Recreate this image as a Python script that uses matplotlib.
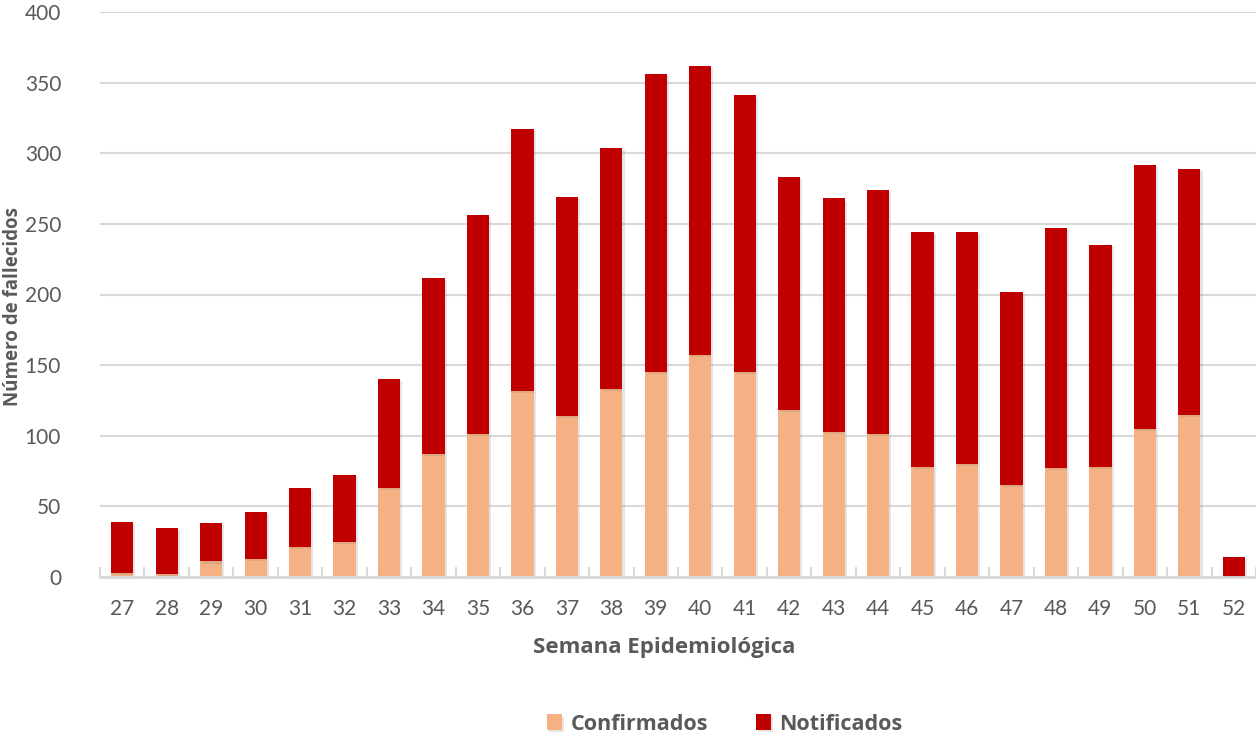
import numpy as np
import matplotlib.pyplot as plt
import matplotlib.patheffects as pe

# Fallecidos por semana epidemiológica
semanas = [str(s) for s in range(27, 53)]
confirmados = [3, 2, 11, 13, 21, 25, 63, 87, 101, 132, 114, 133, 145,
               157, 145, 118, 103, 101, 78, 80, 65, 77, 78, 105, 115, 0]
notificados = [36, 33, 27, 33, 42, 47, 77, 125, 155, 185, 155, 171, 211,
               205, 196, 165, 165, 173, 166, 164, 137, 170, 157, 187, 174, 14]

COLOR_CONF = "#F4B183"
COLOR_NOTIF = "#C00000"
GRIS_TEXTO = "#595959"
GRIS_LINEA = "#d9d9d9"
NEGRITA = ['Open Sans', 'DejaVu Sans']

plt.rcParams['font.family'] = ['Lato', 'DejaVu Sans']

fig = plt.figure(figsize=(12.56, 7.40), dpi=100)
ax = fig.add_axes([100 / 1256, 163 / 740, 1156 / 1256, 565 / 740])

x = np.arange(len(semanas))
sombra = [pe.SimplePatchShadow(offset=(1.5, -1.5), shadow_rgbFace="#808080", alpha=0.2), pe.Normal()]
b1 = ax.bar(x, confirmados, width=0.5, color=COLOR_CONF, label="Confirmados", zorder=3)
b2 = ax.bar(x, notificados, width=0.5, bottom=confirmados, color=COLOR_NOTIF,
            label="Notificados", zorder=3)
for barra in list(b1) + list(b2):
    barra.set_path_effects(sombra)

ax.set_xlim(-0.5, len(semanas) - 0.5)
ax.set_ylim(0, 400)
ax.set_yticks(range(0, 401, 50))
ax.set_xticks(x)
ax.set_xticklabels(semanas)
ax.set_xticks(np.arange(-0.5, len(semanas), 1.0), minor=True)

ax.grid(axis="y", color=GRIS_LINEA, linewidth=1.5, zorder=0)
ax.set_axisbelow(True)
for lado in ["top", "right", "left"]:
    ax.spines[lado].set_visible(False)
ax.spines["bottom"].set_color(GRIS_LINEA)
ax.spines["bottom"].set_linewidth(2)
ax.spines["bottom"].set_zorder(4)

ax.tick_params(axis="y", length=0, labelsize=15, labelcolor=GRIS_TEXTO, pad=28)
ax.tick_params(axis="x", which="major", length=0, labelsize=15, labelcolor=GRIS_TEXTO, pad=16)
ax.tick_params(axis="x", which="minor", length=7, width=1.5, color=GRIS_LINEA, direction="in")

# títulos de ejes en coordenadas de figura
fig.text(664 / 1256, 1 - 648 / 740, "Semana Epidemiológica", fontsize=16, fontweight="bold",
         family=NEGRITA, color=GRIS_TEXTO, ha="center", va="center")
fig.text(13 / 1256, 1 - 307 / 740, "Número de fallecidos", fontsize=13.5, fontweight="bold",
         family=NEGRITA, color=GRIS_TEXTO, ha="center", va="center", rotation=90)

leg = fig.legend(handles=[b1, b2], loc="center", bbox_to_anchor=(725 / 1256, 16 / 740),
                 ncol=2, frameon=False, handlelength=0.7, handleheight=0.7,
                 columnspacing=2.2, handletextpad=0.4,
                 prop={"family": NEGRITA, "weight": "bold", "size": 15.5})
for t in leg.get_texts():
    t.set_color(GRIS_TEXTO)

fig.savefig("out.png", dpi=100)
